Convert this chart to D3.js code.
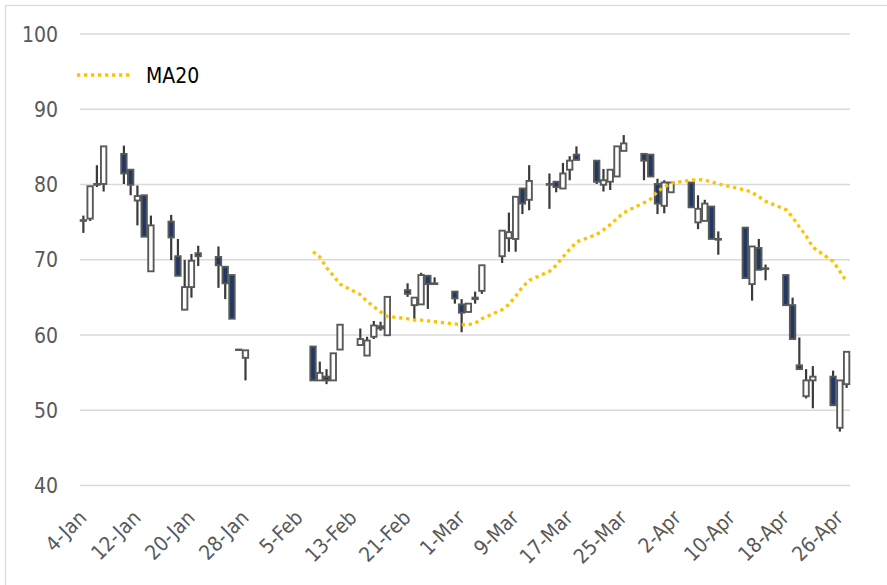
<!DOCTYPE html>
<html>
<head>
<meta charset="utf-8">
<script src="https://cdn.jsdelivr.net/npm/d3@7"></script>
<style>
  body { margin: 0; background: #fff; }
  svg text { font-family: 'DejaVu Sans Condensed', 'DejaVu Sans', sans-serif; font-stretch: condensed; }
</style>
</head>
<body>
<div class="svg"></div>
<script>
const width = 887
const height = 585
const plotLeft = 80
const plotRight = 850
const plotTop = 33.5
const plotBottom = 485

// Data (2022 trading days)
const dates = [
  '2022-01-04', '2022-01-05', '2022-01-06', '2022-01-07',
  '2022-01-10', '2022-01-11', '2022-01-12', '2022-01-13', '2022-01-14',
  '2022-01-17', '2022-01-18', '2022-01-19', '2022-01-20', '2022-01-21',
  '2022-01-24', '2022-01-25', '2022-01-26', '2022-01-27', '2022-01-28',
  '2022-02-07', '2022-02-08', '2022-02-09', '2022-02-10', '2022-02-11',
  '2022-02-14', '2022-02-15', '2022-02-16', '2022-02-17', '2022-02-18',
  '2022-02-21', '2022-02-22', '2022-02-23', '2022-02-24', '2022-02-25',
  '2022-02-28', '2022-03-01', '2022-03-02', '2022-03-03', '2022-03-04',
  '2022-03-07', '2022-03-08', '2022-03-09', '2022-03-10', '2022-03-11',
  '2022-03-14', '2022-03-15', '2022-03-16', '2022-03-17', '2022-03-18',
  '2022-03-21', '2022-03-22', '2022-03-23', '2022-03-24', '2022-03-25',
  '2022-03-28', '2022-03-29', '2022-03-30', '2022-03-31', '2022-04-01',
  '2022-04-04', '2022-04-05', '2022-04-06', '2022-04-07', '2022-04-08',
  '2022-04-12', '2022-04-13', '2022-04-14', '2022-04-15',
  '2022-04-18', '2022-04-19', '2022-04-20', '2022-04-21', '2022-04-22',
  '2022-04-25', '2022-04-26', '2022-04-27'
]
const opens = [
  75.1, 75.4, 79.9, 80.0,
  84.0, 81.9, 77.8, 78.5, 68.4,
  75.0, 70.4, 63.3, 66.3, 70.8,
  70.3, 69.0, 67.9, 58.0, 56.9,
  58.4, 53.9, 54.4, 53.9, 58.0,
  58.6, 57.2, 59.7, 61.1, 59.9,
  65.9, 63.9, 64.0, 67.8, 66.7,
  65.7, 64.0, 63.0, 64.7, 65.8,
  70.4, 72.8, 72.7, 79.4, 77.9,
  79.9, 80.3, 79.4, 81.9, 83.9,
  83.1, 79.9, 80.3, 81.0, 84.4,
  84.0, 83.9, 80.0, 77.1, 78.9,
  80.2, 74.9, 75.1, 77.0, 72.6,
  74.2, 66.7, 71.5, 68.7,
  67.9, 63.9, 55.9, 51.8, 53.9,
  54.4, 47.6, 53.4
]
const highs = [
  75.8, 79.7, 82.5, 85.0,
  85.1, 81.9, 79.8, 78.5, 75.8,
  75.9, 72.7, 69.9, 70.7, 71.8,
  71.7, 69.0, 67.9, 58.0, 57.9,
  58.4, 56.4, 55.4, 57.5, 61.3,
  60.8, 59.7, 61.8, 61.7, 65.0,
  66.8, 64.9, 68.2, 67.8, 67.6,
  65.7, 64.7, 64.1, 65.7, 69.2,
  73.8, 76.2, 78.3, 79.4, 82.5,
  81.4, 80.3, 82.8, 83.7, 85.0,
  83.1, 82.0, 81.9, 85.0, 86.5,
  84.0, 83.9, 80.7, 80.5, 80.2,
  80.2, 78.5, 77.9, 77.0, 73.7,
  74.2, 71.7, 72.7, 69.3,
  67.9, 64.9, 59.6, 55.4, 55.8,
  55.2, 53.9, 57.7
]
const lows = [
  73.5, 75.1, 79.6, 79.0,
  80.0, 78.5, 74.5, 73.0, 68.4,
  69.9, 67.8, 63.3, 64.9, 69.1,
  66.2, 64.7, 62.1, 58.0, 53.9,
  53.9, 53.9, 53.4, 53.9, 58.0,
  58.6, 57.2, 59.4, 60.5, 59.9,
  65.0, 62.0, 64.0, 63.4, 66.6,
  64.1, 60.3, 63.0, 64.1, 65.4,
  69.5, 71.0, 71.0, 76.0, 76.5,
  76.7, 78.9, 79.4, 80.5, 83.2,
  80.0, 79.0, 79.2, 81.0, 84.4,
  80.5, 81.0, 76.0, 76.1, 78.9,
  76.9, 74.0, 75.1, 72.7, 70.6,
  67.5, 64.5, 68.6, 67.2,
  63.9, 59.4, 55.4, 51.5, 50.2,
  50.6, 47.1, 52.9
]
const closes = [
  75.2, 79.7, 80.0, 85.0,
  81.4, 79.9, 78.4, 73.0, 74.5,
  72.9, 67.8, 66.3, 69.8, 70.4,
  69.2, 66.8, 62.1, 58.0, 57.9,
  53.9, 54.9, 53.9, 57.5, 61.3,
  59.4, 59.2, 61.2, 60.8, 65.0,
  65.4, 64.9, 67.9, 66.7, 66.8,
  64.8, 62.9, 64.1, 64.9, 69.2,
  73.8, 73.6, 78.3, 77.4, 80.4,
  80.0, 79.6, 81.4, 83.1, 83.2,
  80.3, 80.5, 81.9, 85.0, 85.4,
  83.1, 81.0, 77.4, 80.2, 80.2,
  76.9, 76.7, 77.4, 72.7, 72.7,
  67.5, 71.7, 68.6, 68.8,
  63.9, 59.4, 55.4, 53.9, 54.4,
  50.6, 53.9, 57.7
]
// MA20, starting on the 20th trading day
const ma20 = [
  71.0, 70.3, 68.9, 67.8, 66.7,
  65.3, 64.4, 63.7, 63.0, 62.4,
  62.1, 61.9, 61.9, 61.8, 61.7,
  61.4, 61.3, 61.3, 61.5, 62.1,
  63.3, 64.0, 65.1, 66.3, 67.2,
  68.4, 69.2, 70.3, 71.3, 72.3,
  73.3, 73.9, 74.6, 75.4, 76.2,
  77.5, 78.0, 79.0, 79.6, 80.1,
  80.5, 80.6, 80.5, 80.3, 80.0,
  79.2, 78.9, 78.3, 77.7,
  76.6, 75.6, 74.3, 73.1, 71.6,
  69.7, 68.4, 67.0
]
const tickDates = [
  '2022-01-04', '2022-01-12', '2022-01-20', '2022-01-28', '2022-02-05',
  '2022-02-13', '2022-02-21', '2022-03-01', '2022-03-09', '2022-03-17',
  '2022-03-25', '2022-04-02', '2022-04-10', '2022-04-18', '2022-04-26'
]
const yTicks = [40, 50, 60, 70, 80, 90, 100]

const parse = d3.utcParse('%Y-%m-%d')
const candles = dates.map((d, i) => ({
  date: parse(d),
  open: opens[i],
  high: highs[i],
  low: lows[i],
  close: closes[i]
}))
const maData = ma20.map((v, i) => ({ date: candles[i + 19].date, value: v }))

const svg = d3
  .select('.svg')
  .append('svg')
  .attr('width', width)
  .attr('height', height)

// chart border
svg
  .append('rect')
  .attr('x', 5.5)
  .attr('y', 5.5)
  .attr('width', width + 20)
  .attr('height', height + 20)
  .attr('fill', '#fff')
  .attr('stroke', '#d9d9d9')
  .attr('stroke-width', 1.2)

// Scales: one slot per calendar day
const first = candles[0].date
const last = candles[candles.length - 1].date
const xScale = d3
  .scaleUtc()
  .domain([d3.utcHour.offset(first, -12), d3.utcHour.offset(last, 12)])
  .range([plotLeft, plotRight])
const slot = xScale(d3.utcDay.offset(first, 1)) - xScale(first)

const yScale = d3.scaleLinear().domain([40, 100]).range([plotBottom, plotTop])

// y axis with gridlines
const yAxis = d3
  .axisLeft(yScale)
  .tickValues(yTicks)
  .tickSize(-(plotRight - plotLeft))
  .tickPadding(22)

const gy = svg
  .append('g')
  .attr('transform', 'translate(' + plotLeft + ', 0)')
  .call(yAxis)
gy.select('.domain').remove()
gy.selectAll('line').attr('stroke', '#d9d9d9').attr('stroke-width', 1.5)
gy.selectAll('text')
  .attr('fill', '#595959')
  .style('font-size', '21px')
  .attr('dy', '0.36em')

// x axis
const xAxis = d3
  .axisBottom(xScale)
  .tickValues(tickDates.map(parse))
  .tickFormat(d3.utcFormat('%-d-%b'))
  .tickSize(0)

const gx = svg
  .append('g')
  .attr('transform', 'translate(0, ' + plotBottom + ')')
  .call(xAxis)
gx.select('.domain').remove()
gx.selectAll('text')
  .attr('fill', '#595959')
  .style('font-size', '20.5px')
  .attr('text-anchor', 'end')
  .attr('x', 0)
  .attr('y', 0)
  .attr('dy', 0)
  .attr('transform', 'translate(4, 34) rotate(-45)')

// Candles
const bodyW = slot * 0.8
const cg = svg.append('g')

cg.selectAll('line.wick')
  .data(candles)
  .enter()
  .append('line')
  .attr('class', 'wick')
  .attr('x1', d => xScale(d.date))
  .attr('x2', d => xScale(d.date))
  .attr('y1', d => yScale(d.high))
  .attr('y2', d => yScale(d.low))
  .attr('stroke', '#3a3a3a')
  .attr('stroke-width', 2.2)

cg.selectAll('rect.body')
  .data(candles)
  .enter()
  .append('rect')
  .attr('class', 'body')
  .attr('x', d => xScale(d.date) - bodyW / 2)
  .attr('y', d => yScale(Math.max(d.open, d.close)))
  .attr('width', bodyW)
  .attr('height', d => Math.max(0.5, Math.abs(yScale(d.open) - yScale(d.close))))
  .attr('fill', d => (d.close < d.open ? '#1f3864' : '#ffffff'))
  .attr('stroke', '#595959')
  .attr('stroke-width', 1.9)

// MA20 line
const line = d3
  .line()
  .x(d => xScale(d.date))
  .y(d => yScale(d.value))

svg
  .append('path')
  .datum(maData)
  .attr('d', line)
  .attr('fill', 'none')
  .attr('stroke', '#ffc000')
  .attr('stroke-width', 3.3)
  .attr('stroke-dasharray', '3.3 3.7')

// Legend
const legend = svg.append('g')
legend
  .append('line')
  .attr('x1', 77)
  .attr('x2', 131)
  .attr('y1', 75)
  .attr('y2', 75)
  .attr('stroke', '#ffc000')
  .attr('stroke-width', 3.3)
  .attr('stroke-dasharray', '3.3 3.7')

legend
  .append('text')
  .attr('x', 146)
  .attr('y', 82.5)
  .attr('fill', '#000')
  .style('font-size', '21px')
  .text('MA20')
</script>
</body>
</html>
